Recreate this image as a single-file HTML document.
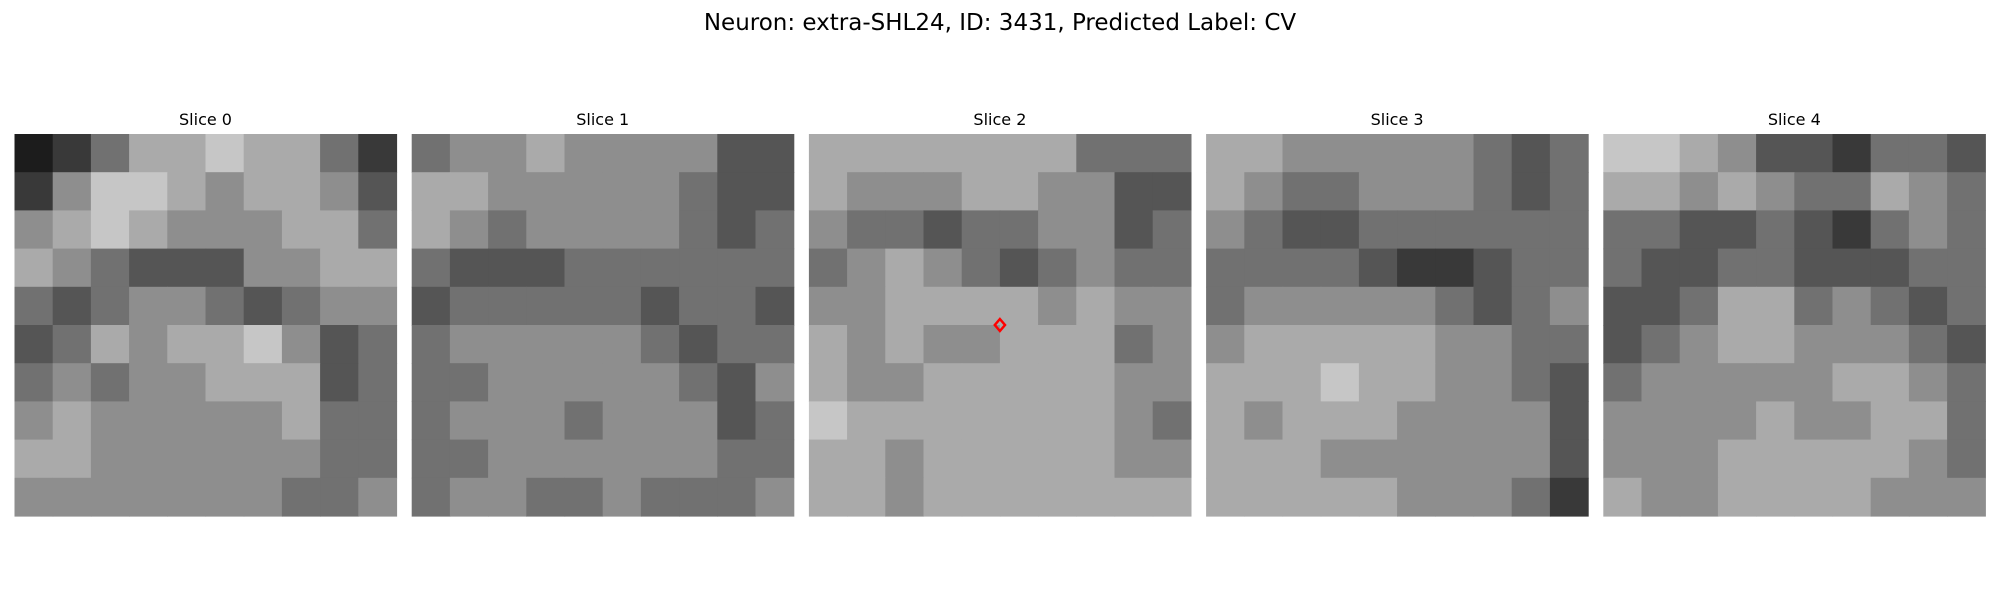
<!DOCTYPE html>
<html><head><meta charset="utf-8"><style>
body{margin:0;background:#fff;width:2000px;height:600px;overflow:hidden}
svg{display:block}
text{font-family:"DejaVu Sans","Liberation Sans",sans-serif;fill:#000}
</style></head><body>
<svg id="fig" width="2000" height="600" viewBox="0 0 2000 600" xmlns="http://www.w3.org/2000/svg">
<text x="1000" y="30" font-size="23" text-anchor="middle">Neuron: extra-SHL24, ID: 3431, Predicted Label: CV</text>
</svg>
<script>
const sliceLabels = ["Slice 0","Slice 1","Slice 2","Slice 3","Slice 4"];
const slice0 = [[1,2,4,6,6,7,6,6,4,2],[2,5,7,7,6,5,6,6,5,3],[5,6,7,6,5,5,5,6,6,4],[6,5,4,3,3,3,5,5,6,6],[4,3,4,5,5,4,3,4,5,5],[3,4,6,5,6,6,7,5,3,4],[4,5,4,5,5,6,6,6,3,4],[5,6,5,5,5,5,5,6,4,4],[6,6,5,5,5,5,5,5,4,4],[5,5,5,5,5,5,5,4,4,5]];
const slice1 = [[4,5,5,6,5,5,5,5,3,3],[6,6,5,5,5,5,5,4,3,3],[6,5,4,5,5,5,5,4,3,4],[4,3,3,3,4,4,4,4,4,4],[3,4,4,4,4,4,3,4,4,3],[4,5,5,5,5,5,4,3,4,4],[4,4,5,5,5,5,5,4,3,5],[4,5,5,5,4,5,5,5,3,4],[4,4,5,5,5,5,5,5,4,4],[4,5,5,4,4,5,4,4,4,5]];
const slice2 = [[6,6,6,6,6,6,6,4,4,4],[6,5,5,5,6,6,5,5,3,3],[5,4,4,3,4,4,5,5,3,4],[4,5,6,5,4,3,4,5,4,4],[5,5,6,6,6,6,5,6,5,5],[6,5,6,5,5,6,6,6,4,5],[6,5,5,6,6,6,6,6,5,5],[7,6,6,6,6,6,6,6,5,4],[6,6,5,6,6,6,6,6,5,5],[6,6,5,6,6,6,6,6,6,6]];
const slice3 = [[6,6,5,5,5,5,5,4,3,4],[6,5,4,4,5,5,5,4,3,4],[5,4,3,3,4,4,4,4,4,4],[4,4,4,4,3,2,2,3,4,4],[4,5,5,5,5,5,4,3,4,5],[5,6,6,6,6,6,5,5,4,4],[6,6,6,7,6,6,5,5,4,3],[6,5,6,6,6,5,5,5,5,3],[6,6,6,5,5,5,5,5,5,3],[6,6,6,6,6,5,5,5,4,2]];
const slice4 = [[7,7,6,5,3,3,2,4,4,3],[6,6,5,6,5,4,4,6,5,4],[4,4,3,3,4,3,2,4,5,4],[4,3,3,4,4,3,3,3,4,4],[3,3,4,6,6,4,5,4,3,4],[3,4,5,6,6,5,5,5,4,3],[4,5,5,5,5,5,6,6,5,4],[5,5,5,5,6,5,5,6,6,4],[5,5,5,6,6,6,6,6,5,4],[6,5,5,6,6,6,6,5,5,5]];
const slices = [slice0, slice1, slice2, slice3, slice4];
const markerSlice = 2;
const markerPos = [0.5, 0.5];

const NS = "http://www.w3.org/2000/svg";
const svg = document.getElementById('fig');
const panelLeft = i => 14.5 + i * 397.2;
const panelTop = 134, panelSize = 382;
function gray(v){const g=Math.round(v/9*255);return `rgb(${g},${g},${g})`;}
slices.forEach((grid, i) => {
  const g = document.createElementNS(NS,'g');
  
  
  svg.appendChild(g);
  const t = document.createElementNS(NS,'text');
  
  
  t.setAttribute('x', panelLeft(i) + panelSize/2);
  t.setAttribute('y', 125);
  t.setAttribute('font-size', '16');
  t.setAttribute('text-anchor', 'middle');
  t.textContent = sliceLabels[i];
  g.appendChild(t);
  const n = grid.length, cs = panelSize / n;
  grid.forEach((row, r) => row.forEach((v, c) => {
    const rc = document.createElementNS(NS,'rect');
    
    
    rc.setAttribute('x', panelLeft(i) + c*cs);
    rc.setAttribute('y', panelTop + r*cs);
    rc.setAttribute('width', cs + 0.6);
    rc.setAttribute('height', cs + 0.6);
    rc.setAttribute('fill', gray(v));
    g.appendChild(rc);
  }));
});
const mx = panelLeft(markerSlice) + markerPos[0]*panelSize;
const my = panelTop + markerPos[1]*panelSize;
const d = 6;
const mk = document.createElementNS(NS,'polygon');


mk.setAttribute('points', `${mx},${my-d} ${mx+d*0.85},${my} ${mx},${my+d} ${mx-d*0.85},${my}`);
mk.setAttribute('fill', 'none');
mk.setAttribute('stroke', '#ff0000');
mk.setAttribute('stroke-width', '2.5');
svg.appendChild(mk);
</script>
</body></html>
